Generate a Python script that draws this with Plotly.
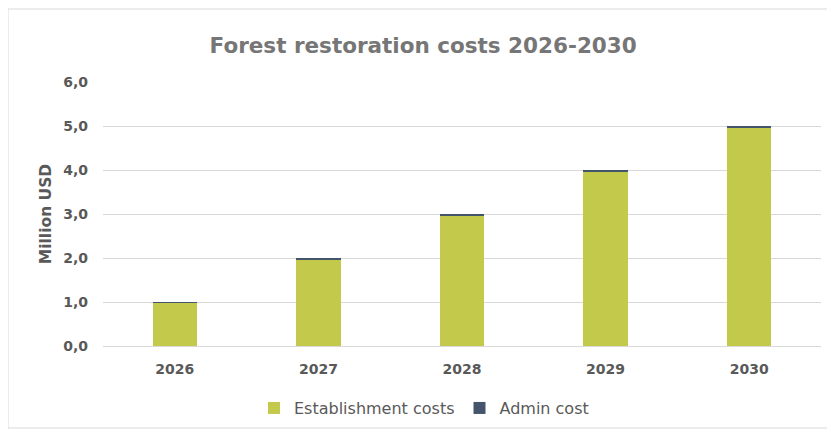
import plotly.graph_objects as go

years = ["2026", "2027", "2028", "2029", "2030"]
establishment = [0.985, 1.975, 2.97, 3.96, 4.955]
admin = [0.015, 0.02, 0.025, 0.035, 0.04]

grey = "#595959"
font_family = "'DejaVu Sans', sans-serif"

fig = go.Figure()
fig.add_trace(go.Bar(x=years, y=establishment, name="Establishment costs",
                     marker=dict(color="#c3c94b", line=dict(width=0))))
fig.add_trace(go.Bar(x=years, y=admin, name="Admin cost",
                     marker=dict(color="#44546a", line=dict(width=0))))

fig.update_layout(
    barmode="stack",
    bargap=0.69,
    width=827, height=422,
    margin=dict(l=95, r=14, t=74, b=84, autoexpand=False),
    paper_bgcolor="white", plot_bgcolor="white",
    separators=",.",
    font=dict(family=font_family, color=grey, size=14),
    title=dict(text="<b>Forest restoration costs 2026-2030</b>",
               x=0.502, xanchor="center", y=0.912, yanchor="middle",
               font=dict(size=21.5, color="#767676", family=font_family)),
    legend=dict(orientation="h", xref="container", yref="container",
                x=0.503, xanchor="center", y=0.052, yanchor="middle",
                font=dict(size=16, color=grey), traceorder="normal"),
    xaxis=dict(showgrid=False, showline=True, linecolor="#d9d9d9", linewidth=1,
               tickfont=dict(size=14, color=grey, weight="bold"), ticks="",
               automargin=False, ticklabelstandoff=10),
    yaxis=dict(range=[0, 6], dtick=1, tickformat=".1f", showgrid=True,
               gridcolor="#d9d9d9", gridwidth=1, zeroline=False, showline=False,
               tickfont=dict(size=14, color=grey, weight="bold"),
               ticklabelstandoff=14, automargin=False,
               title=dict(text="<b>Million USD</b>", font=dict(size=15.5, color=grey), standoff=7)),
    shapes=[dict(type="rect", xref="paper", yref="paper",
                 x0=-0.1323, x1=1.0153, y0=-0.3106, y1=1.2765,
                 line=dict(color="#d9d9d9", width=1), fillcolor="rgba(0,0,0,0)", layer="below")],
)

fig.write_html("out.html")
